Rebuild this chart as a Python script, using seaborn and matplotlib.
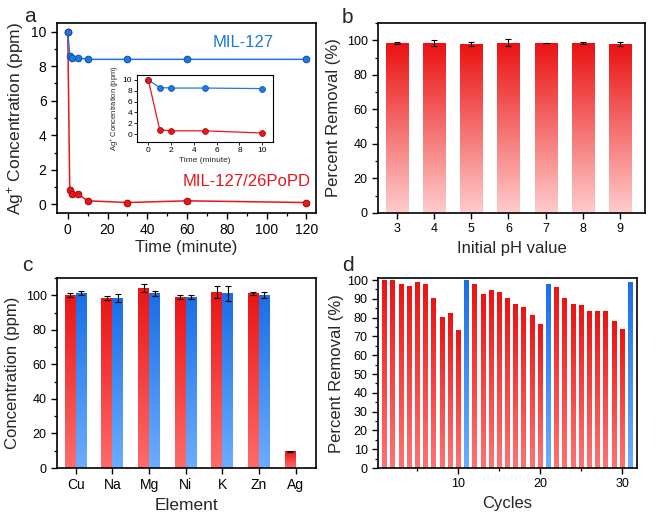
import numpy as np
import pandas as pd
import matplotlib
matplotlib.use("Agg")
import matplotlib.pyplot as plt
from matplotlib.colors import LinearSegmentedColormap
from matplotlib.ticker import MultipleLocator
import seaborn as sns

# ---------------- data ----------------
# panel a
time_min = [0, 1, 2, 5, 10, 30, 60, 120]
conc_mil127 = [10.0, 8.6, 8.5, 8.5, 8.4, 8.4, 8.4, 8.4]
conc_popd = [10.0, 0.8, 0.6, 0.6, 0.2, 0.1, 0.2, 0.1]
inset_time = [0, 1, 2, 5, 10]
inset_mil127 = [10.0, 8.6, 8.5, 8.5, 8.4]
inset_popd = [10.0, 0.8, 0.6, 0.6, 0.2]

# panel b
ph_values = ["3", "4", "5", "6", "7", "8", "9"]
ph_removal = [98.5, 98.5, 97.9, 98.7, 98.7, 98.5, 97.9]
ph_err = [0.8, 1.8, 1.0, 2.0, 0.0, 0.6, 1.2]

# panel c
elements = ["Cu", "Na", "Mg", "Ni", "K", "Zn", "Ag"]
conc_before = [100.4, 98.5, 104.4, 99.0, 102.1, 101.2, 9.6]
err_before = [1.2, 1.3, 2.4, 1.1, 3.6, 1.0, 0.3]
conc_after = [101.3, 98.5, 101.2, 99.2, 101.2, 100.4, np.nan]
err_after = [1.3, 2.5, 1.3, 1.2, 4.3, 1.7, np.nan]

# panel d
cycles = list(range(1, 32))
cycle_removal = [100, 100, 98, 97, 99, 98, 90.5, 80.5, 82.5, 73.5,
                 100, 98, 92.5, 94.5, 93.5, 90.5, 87.5, 85.5, 81.5, 76.5,
                 98, 96.5, 90.5, 87.5, 86.5, 83.5, 83.5, 83.5, 78, 74,
                 99]
regenerated = [11, 21, 31]

# ---------------- style ----------------
sns.set_style("ticks")
plt.rcParams["font.family"] = ["Liberation Sans", "DejaVu Sans"]
plt.rcParams["mathtext.fontset"] = "custom"
plt.rcParams["mathtext.rm"] = "Liberation Sans"
plt.rcParams["mathtext.it"] = "Liberation Sans:italic"
plt.rcParams["axes.linewidth"] = 1.2
plt.rcParams["axes.edgecolor"] = "black"
plt.rcParams["xtick.color"] = "black"
plt.rcParams["ytick.color"] = "black"
plt.rcParams["xtick.direction"] = "out"
plt.rcParams["ytick.direction"] = "out"

RED = "#e8161b"
BLUE = "#1e78e0"

fig = plt.figure(figsize=(6.6, 5.13), dpi=100)
ax_a = fig.add_axes([0.0864, 0.585, 0.392, 0.370])
ax_b = fig.add_axes([0.573, 0.585, 0.405, 0.370])
ax_c = fig.add_axes([0.0864, 0.0877, 0.392, 0.370])
ax_d = fig.add_axes([0.573, 0.0877, 0.392, 0.370])
ax_in = fig.add_axes([0.2076, 0.723, 0.206, 0.131])


def style_axes(ax, tick_size=9):
    for s in ax.spines.values():
        s.set_visible(True)
        s.set_linewidth(1.2)
        s.set_color("black")
    ax.tick_params(which="major", length=4, width=1.0, labelsize=tick_size,
                   top=False, right=False)
    ax.tick_params(which="minor", length=2.2, width=0.9, top=False, right=False)


def grad_fill(ax, patches, top, bottom):
    cmap = LinearSegmentedColormap.from_list("g", [bottom, top])
    xl, yl = ax.get_xlim(), ax.get_ylim()
    grad = np.linspace(0, 1, 256).reshape(-1, 1)
    for p in patches:
        x, y = p.get_x(), p.get_y()
        w, h = p.get_width(), p.get_height()
        if not np.isfinite(h) or h == 0:
            continue
        im = ax.imshow(grad, cmap=cmap, extent=[x, x + w, y, y + h],
                       origin="lower", aspect="auto", zorder=p.get_zorder(),
                       interpolation="bilinear")
        im.set_clip_path(p)
        p.set_facecolor("none")
        p.set_edgecolor("none")
    ax.set_xlim(xl)
    ax.set_ylim(yl)


# ---------------- panel a ----------------
df_a = pd.DataFrame({
    "Time": time_min * 2,
    "Conc": conc_popd + conc_mil127,
    "Material": ["MIL-127/26PoPD"] * len(time_min) + ["MIL-127"] * len(time_min),
})
pal_a = {"MIL-127/26PoPD": RED, "MIL-127": BLUE}
sns.lineplot(data=df_a, x="Time", y="Conc", hue="Material", palette=pal_a,
             hue_order=["MIL-127/26PoPD", "MIL-127"], marker="o", markersize=4.8,
             linewidth=1.1, legend=False, ax=ax_a)
for ln, ec in zip(ax_a.lines, ["#a00808", "#0d4fa6"]):
    ln.set_markeredgecolor(ec)
    ln.set_markeredgewidth(0.7)
ax_a.set_xlim(-5.4, 124.7)
ax_a.set_ylim(-0.5, 10.5)
ax_a.xaxis.set_major_locator(MultipleLocator(20))
ax_a.xaxis.set_minor_locator(MultipleLocator(10))
ax_a.yaxis.set_major_locator(MultipleLocator(2))
ax_a.yaxis.set_minor_locator(MultipleLocator(1))
ax_a.set_xlabel("Time (minute)", fontsize=12, labelpad=2)
ax_a.set_ylabel(r"Ag$^{+}$ Concentration (ppm)", fontsize=12.5, labelpad=4)
style_axes(ax_a, 10)
ax_a.text(88.3, 9.35, "MIL-127", color=BLUE, fontsize=12, ha="center", va="center")
ax_a.text(90, 1.31, "MIL-127/26PoPD", color=RED, fontsize=12, ha="center", va="center")

# inset
df_in = pd.DataFrame({
    "Time": inset_time * 2,
    "Conc": inset_mil127 + inset_popd,
    "Material": ["MIL-127"] * len(inset_time) + ["MIL-127/26PoPD"] * len(inset_time),
})
sns.lineplot(data=df_in, x="Time", y="Conc", hue="Material", palette=pal_a,
             hue_order=["MIL-127", "MIL-127/26PoPD"], marker="o", markersize=4.3,
             linewidth=0.9, legend=False, ax=ax_in)
for ln, ec in zip(ax_in.lines, ["#0d4fa6", "#a00808"]):
    ln.set_markeredgecolor(ec)
    ln.set_markeredgewidth(0.5)
ax_in.set_xlim(-0.99, 10.94)
ax_in.set_ylim(-1.48, 10.93)
ax_in.xaxis.set_major_locator(MultipleLocator(2))
ax_in.yaxis.set_major_locator(MultipleLocator(2))
ax_in.set_xlabel("Time (minute)", fontsize=6, labelpad=2)
ax_in.set_ylabel(r"Ag$^{+}$ Concentration (ppm)", fontsize=5.5, labelpad=1)
for s in ax_in.spines.values():
    s.set_visible(True)
    s.set_linewidth(0.8)
ax_in.tick_params(length=2, width=0.6, labelsize=6, pad=1.5)

# ---------------- panel b ----------------
df_b = pd.DataFrame({"pH": ph_values, "Removal": ph_removal})
sns.barplot(data=df_b, x="pH", y="Removal", color=RED, width=0.6,
            errorbar=None, ax=ax_b)
ax_b.set_xlim(-0.5, 6.68)
ax_b.set_ylim(0, 110)
grad_fill(ax_b, ax_b.patches, (0.92, 0.07, 0.07), (1.0, 0.80, 0.80))
centers_b = [p.get_x() + p.get_width() / 2 for p in ax_b.patches]
ax_b.errorbar(centers_b, ph_removal, yerr=ph_err, fmt="none", ecolor="black",
              elinewidth=0.8, capsize=2, capthick=0.8, zorder=5)
ax_b.yaxis.set_major_locator(MultipleLocator(20))
ax_b.yaxis.set_minor_locator(MultipleLocator(10))
ax_b.set_xlabel("Initial pH value", fontsize=12)
ax_b.set_ylabel("Percent Removal (%)", fontsize=12)
style_axes(ax_b, 9)

# ---------------- panel c ----------------
df_c = pd.DataFrame({
    "Element": elements * 2,
    "Conc": conc_before + conc_after,
    "Err": err_before + err_after,
    "Group": ["before"] * len(elements) + ["after"] * len(elements),
})
sns.barplot(data=df_c, x="Element", y="Conc", hue="Group",
            hue_order=["before", "after"], palette={"before": RED, "after": BLUE},
            order=elements, width=0.6, errorbar=None, legend=False, ax=ax_c)
ax_c.set_xlim(-0.51, 6.55)
ax_c.set_ylim(0, 110)
grad_colors = [((0.92, 0.08, 0.08), (1.0, 0.42, 0.42)),
               ((0.10, 0.43, 0.90), (0.42, 0.68, 1.0))]
errs_c = {"before": err_before, "after": err_after}
vals_c = {"before": conc_before, "after": conc_after}
for cont, grp, (top, bot) in zip(ax_c.containers, ["before", "after"], grad_colors):
    pts = list(cont.patches)
    xs, ys, es = [], [], []
    for p in pts:
        h = p.get_height()
        if not np.isfinite(h) or h == 0:
            continue
        xc = p.get_x() + p.get_width() / 2
        idx = int(round(xc))
        xs.append(xc)
        ys.append(vals_c[grp][idx])
        es.append(errs_c[grp][idx])
    grad_fill(ax_c, pts, top, bot)
    ax_c.errorbar(xs, ys, yerr=es, fmt="none", ecolor="black", elinewidth=0.8,
                  capsize=2, capthick=0.8, zorder=5)
ax_c.yaxis.set_major_locator(MultipleLocator(20))
ax_c.yaxis.set_minor_locator(MultipleLocator(10))
ax_c.set_xlabel("Element", fontsize=12.5)
ax_c.set_ylabel("Concentration (ppm)", fontsize=12)
style_axes(ax_c, 9)
ax_c.tick_params(axis="x", labelsize=10)

# ---------------- panel d ----------------
df_d = pd.DataFrame({
    "Cycle": cycles,
    "Removal": cycle_removal,
    "Kind": ["regen" if c in regenerated else "use" for c in cycles],
})
sns.barplot(data=df_d, x="Cycle", y="Removal", hue="Kind",
            palette={"use": RED, "regen": BLUE}, native_scale=True, dodge=False,
            width=0.6, errorbar=None, legend=False, ax=ax_d)
ax_d.set_xlim(0.2, 31.8)
ax_d.set_ylim(0, 101)
red_p, blue_p = [], []
for p in ax_d.patches:
    xc = int(round(p.get_x() + p.get_width() / 2))
    (blue_p if xc in regenerated else red_p).append(p)
grad_fill(ax_d, red_p, (0.93, 0.07, 0.07), (1.0, 0.45, 0.45))
grad_fill(ax_d, blue_p, (0.10, 0.43, 0.90), (0.42, 0.68, 1.0))
ax_d.xaxis.set_major_locator(MultipleLocator(10))
ax_d.xaxis.set_minor_locator(MultipleLocator(5))
ax_d.yaxis.set_major_locator(MultipleLocator(10))
ax_d.yaxis.set_minor_locator(MultipleLocator(5))
ax_d.set_xlabel("Cycles", fontsize=12)
ax_d.set_ylabel("Percent Removal (%)", fontsize=12, labelpad=2)
style_axes(ax_d, 9)

# panel letters
fig.text(0.045, 0.967, "a", fontsize=15, ha="center", va="center")
fig.text(0.527, 0.965, "b", fontsize=15, ha="center", va="center")
fig.text(0.041, 0.483, "c", fontsize=15, ha="center", va="center")
fig.text(0.527, 0.483, "d", fontsize=15, ha="center", va="center")

fig.savefig("out.png", dpi=100)
